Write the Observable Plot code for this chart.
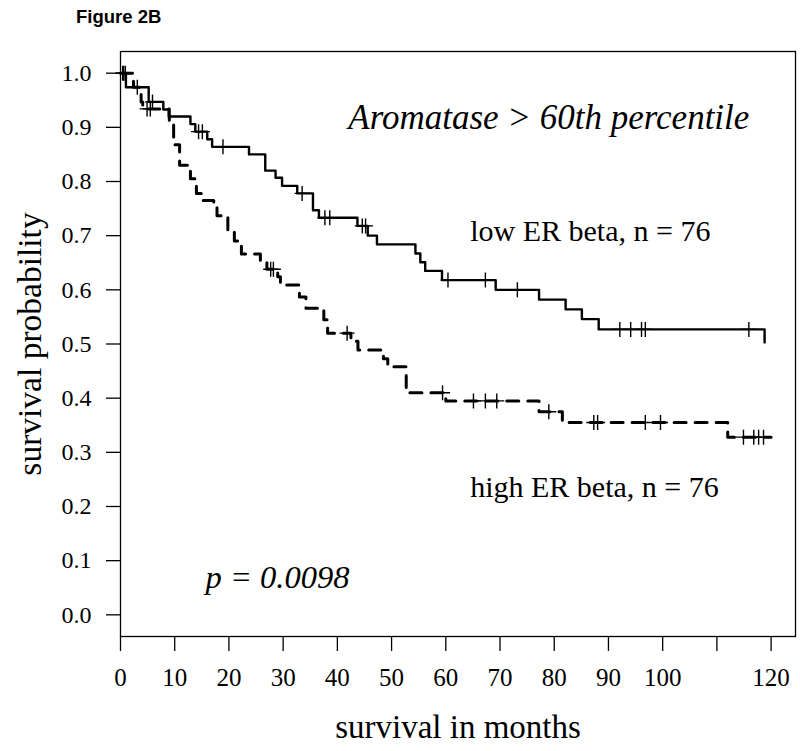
<!DOCTYPE html>
<html>
<head>
<meta charset="utf-8">
<script src="https://cdn.jsdelivr.net/npm/d3@7"></script>
<script src="https://cdn.jsdelivr.net/npm/@observablehq/plot@0.6"></script>
<style>
  html, body { margin: 0; padding: 0; background: #fff; }
  #wrap { position: relative; width: 800px; height: 751px; }
  #fig { position: absolute; left: 76px; top: 6px; font-family: "Liberation Sans", Arial, sans-serif; font-weight: bold; font-size: 18.5px; color: #000; }
  #chart { position: absolute; left: 0; top: 0; }
</style>
</head>
<body>
<div id="wrap"><div id="chart"></div><div id="fig">Figure 2B</div></div>
<script>
// ---- data ----
const lowTimes = [0, 1.0, 5.2, 7.9, 8.9, 12.9, 13.8, 16.0, 16.9, 23.7, 26.7, 28.6, 29.8, 32.6, 35.5, 36.6, 43.7, 45.6, 47.3, 54.4, 55.3, 56.2, 59.3, 69.2, 77.2, 82.1, 85.1, 88.2, 118.8];
const lowSurv  = [1, 0.974, 0.947, 0.933, 0.92, 0.906, 0.892, 0.878, 0.864, 0.85, 0.82, 0.807, 0.792, 0.778, 0.747, 0.733, 0.718, 0.70, 0.684, 0.667, 0.651, 0.635, 0.618, 0.600, 0.582, 0.564, 0.546, 0.527, 0.503];
const lowCensorTimes = [0.4, 0.9, 3.1, 5.9, 14.4, 15.1, 18.9, 33.5, 37.7, 38.6, 44.6, 45.2, 60.4, 67.3, 73.2, 92.1, 94.1, 96.1, 96.8, 115.9];
const lowCensorSurv  = [1, 1, 0.974, 0.947, 0.892, 0.892, 0.864, 0.778, 0.733, 0.733, 0.718, 0.718, 0.618, 0.618, 0.600, 0.527, 0.527, 0.527, 0.527, 0.527];

const highTimes = [0, 2.4, 3.8, 4.1, 9.0, 9.8, 10.9, 12.9, 14.0, 15.0, 17.2, 17.8, 19.8, 21.0, 22.3, 25.8, 27.0, 29.0, 29.5, 33.0, 34.2, 37.5, 38.2, 42.5, 43.8, 48.5, 49.3, 52.7, 60.0, 77.2, 81.5, 112.0, 120.0];
const highSurv  = [1, 0.974, 0.947, 0.934, 0.907, 0.868, 0.83, 0.805, 0.778, 0.765, 0.752, 0.737, 0.71, 0.69, 0.666, 0.652, 0.638, 0.624, 0.609, 0.587, 0.566, 0.545, 0.52, 0.505, 0.489, 0.473, 0.458, 0.41, 0.395, 0.375, 0.355, 0.328, 0.328];
const highCensorTimes = [0.6, 4.9, 5.5, 27.7, 28.2, 41.8, 59.4, 65.1, 67.3, 69.4, 79.0, 87.3, 88.0, 96.8, 99.6, 114.9, 116.8, 117.7, 118.6];
const highCensorSurv  = [1, 0.934, 0.934, 0.638, 0.638, 0.52, 0.41, 0.395, 0.395, 0.395, 0.375, 0.355, 0.355, 0.355, 0.355, 0.328, 0.328, 0.328, 0.328];

const xTicks = [0, 10, 20, 30, 40, 50, 60, 70, 80, 90, 100, 110, 120];
const xTickLabels = ["0", "10", "20", "30", "40", "50", "60", "70", "80", "90", "100", "", "120"];
const yTicks = [0, 0.1, 0.2, 0.3, 0.4, 0.5, 0.6, 0.7, 0.8, 0.9, 1.0];
const yTickLabels = ["0.0", "0.1", "0.2", "0.3", "0.4", "0.5", "0.6", "0.7", "0.8", "0.9", "1.0"];

const title = "Aromatase > 60th percentile";
const lowLabel = "low ER beta, n = 76";
const highLabel = "high ER beta, n = 76";
const pLabel = "p = 0.0098";
const xTitle = "survival in months";
const yTitle = "survival probability";

// ---- tables ----
const low = lowTimes.map((t, i) => ({t, s: lowSurv[i]}));
const high = highTimes.map((t, i) => ({t, s: highSurv[i]}));
const lowC = lowCensorTimes.map((t, i) => ({t, s: lowCensorSurv[i]}));
const highC = highCensorTimes.map((t, i) => ({t, s: highCensorSurv[i]}));

const plusSym = {
  draw(ctx, size) {
    const r = Math.sqrt(size / Math.PI);
    ctx.moveTo(-r, 0); ctx.lineTo(r, 0);
    ctx.moveTo(0, -r); ctx.lineTo(0, r);
  }
};

const serif = "'Liberation Serif', 'Times New Roman', serif";

const chart = Plot.plot({
  width: 800,
  height: 751,
  marginLeft: 120,
  marginRight: 5,
  marginTop: 51,
  marginBottom: 115,
  style: {fontFamily: serif, fontSize: "24px", background: "white", color: "black"},
  x: {domain: [0, 124.5]},
  y: {domain: [-0.04, 1.04]},
  marks: [
    Plot.frame({stroke: "black", strokeWidth: 1.3}),
    Plot.axisX({ticks: xTicks, tickFormat: d => xTickLabels[xTicks.indexOf(d)], tickSize: 15, tickPadding: 17, fontSize: 25, fontFamily: serif, label: null, strokeWidth: 1.3}),
    Plot.axisY({ticks: yTicks, tickFormat: d => yTickLabels[yTicks.findIndex(v => Math.abs(v - d) < 1e-9)], tickSize: 14, tickPadding: 15, fontSize: 24, fontFamily: serif, label: null, strokeWidth: 1.3}),
    Plot.line(low, {x: "t", y: "s", curve: "step-after", stroke: "black", strokeWidth: 2.4}),
    Plot.line(high, {x: "t", y: "s", curve: "step-after", stroke: "black", strokeWidth: 3, strokeDasharray: "12,9"}),
    Plot.dot(lowC, {x: "t", y: "s", symbol: plusSym, r: 7.5, fill: "none", stroke: "black", strokeWidth: 1.4}),
    Plot.dot(highC, {x: "t", y: "s", symbol: plusSym, r: 7.5, fill: "none", stroke: "black", strokeWidth: 1.4}),
    Plot.text([title], {x: 79, y: 0.917, text: d => d, fontSize: 35, fontStyle: "italic", fontFamily: serif, textAnchor: "middle"}),
    Plot.text([lowLabel], {x: 64.5, y: 0.708, text: d => d, fontSize: 30, fontFamily: serif, textAnchor: "start"}),
    Plot.text([highLabel], {x: 64.5, y: 0.236, text: d => d, fontSize: 30, fontFamily: serif, textAnchor: "start"}),
    Plot.text([pLabel], {x: 15.7, y: 0.068, text: d => d, fontSize: 32.5, fontStyle: "italic", fontFamily: serif, textAnchor: "start"}),
    Plot.text([xTitle], {frameAnchor: "bottom", text: d => d, dy: 101, fontSize: 33, fontFamily: serif, textAnchor: "middle"}),
    Plot.text([yTitle], {frameAnchor: "left", text: d => d, dx: -90, rotate: -90, fontSize: 33.5, fontFamily: serif, textAnchor: "middle"})
  ]
});
document.getElementById("chart").appendChild(chart);
</script>
</body>
</html>
